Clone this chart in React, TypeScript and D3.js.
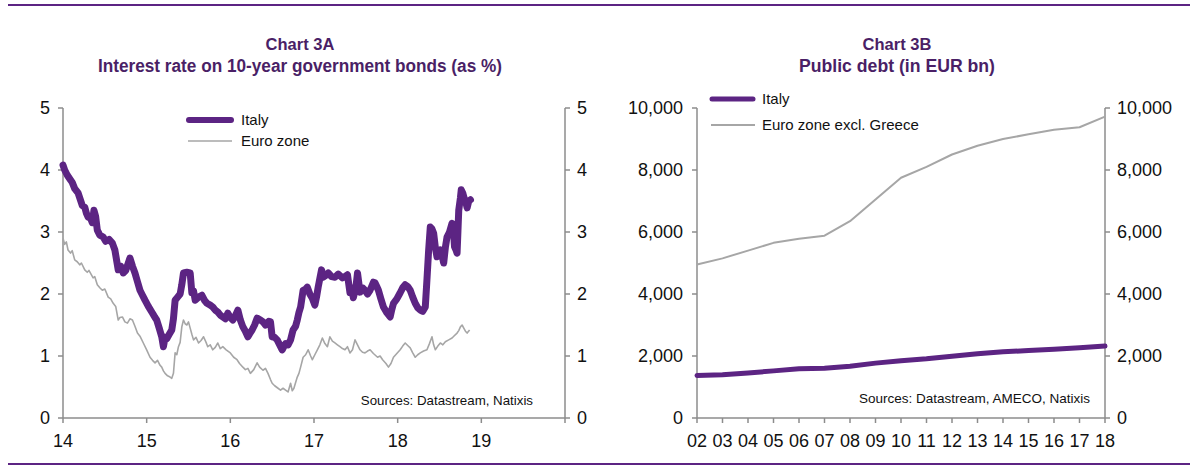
import React from "react";
import * as d3 from "d3";

// ---------- Chart 3A data (year offset from 2014, %) ----------
const italyRateT = [0.00,0.02,0.05,0.08,0.11,0.14,0.18,0.20,0.23,0.26,0.28,0.30,0.33,0.35,0.37,0.39,0.41,0.44,0.48,0.51,0.55,0.59,0.62,0.66,0.69,0.72,0.75,0.78,0.80,0.83,0.86,0.89,0.92,0.95,0.98,1.02,1.07,1.10,1.12,1.15,1.18,1.20,1.22,1.24,1.27,1.30,1.32,1.34,1.37,1.40,1.42,1.44,1.48,1.52,1.54,1.56,1.58,1.62,1.66,1.69,1.72,1.76,1.79,1.82,1.85,1.88,1.91,1.94,1.97,2.00,2.03,2.06,2.09,2.12,2.15,2.18,2.21,2.24,2.26,2.29,2.32,2.36,2.39,2.42,2.46,2.48,2.50,2.53,2.56,2.59,2.62,2.64,2.66,2.69,2.72,2.75,2.78,2.80,2.82,2.84,2.87,2.90,2.92,2.95,2.98,3.01,3.03,3.05,3.07,3.09,3.11,3.14,3.17,3.21,3.25,3.29,3.34,3.37,3.40,3.43,3.45,3.47,3.50,3.52,3.55,3.58,3.61,3.64,3.67,3.71,3.73,3.75,3.77,3.80,3.83,3.87,3.91,3.93,3.95,3.99,4.03,4.06,4.09,4.12,4.15,4.18,4.21,4.24,4.27,4.30,4.33,4.35,4.37,4.39,4.41,4.43,4.45,4.47,4.49,4.51,4.53,4.55,4.57,4.59,4.62,4.65,4.67,4.68,4.70,4.71,4.72,4.73,4.75,4.76,4.78,4.80,4.82,4.83,4.85,4.87];
const italyRateV = [4.08,4.00,3.92,3.86,3.80,3.70,3.63,3.55,3.43,3.40,3.30,3.24,3.22,3.15,3.35,3.25,3.03,2.95,2.92,2.85,2.88,2.82,2.71,2.39,2.45,2.34,2.38,2.50,2.58,2.45,2.34,2.20,2.06,1.98,1.90,1.80,1.69,1.62,1.58,1.45,1.31,1.15,1.30,1.28,1.35,1.42,1.60,1.90,1.95,2.00,2.15,2.34,2.35,2.34,2.02,2.05,1.90,1.95,1.98,1.90,1.85,1.82,1.79,1.74,1.71,1.66,1.63,1.60,1.69,1.62,1.58,1.65,1.74,1.58,1.47,1.40,1.31,1.38,1.42,1.50,1.61,1.58,1.55,1.50,1.56,1.55,1.31,1.30,1.26,1.18,1.10,1.15,1.20,1.18,1.26,1.42,1.48,1.58,1.70,1.79,2.06,2.08,2.11,2.00,1.93,1.82,1.95,2.11,2.25,2.39,2.27,2.30,2.34,2.28,2.27,2.32,2.26,2.28,2.31,2.02,2.10,1.94,2.10,2.34,2.03,2.10,2.06,2.00,2.06,2.19,2.18,2.12,2.06,1.92,1.79,1.70,1.63,1.75,1.85,1.92,2.02,2.10,2.15,2.12,2.06,1.95,1.85,1.78,1.74,1.72,1.79,2.23,2.70,3.08,3.05,2.98,2.75,2.60,2.68,2.71,2.62,2.50,2.75,2.92,3.00,3.14,2.95,2.76,2.70,2.66,3.00,3.35,3.55,3.68,3.62,3.52,3.45,3.39,3.50,3.52];
const euroRateT = [0.00,0.02,0.04,0.06,0.09,0.11,0.14,0.17,0.20,0.22,0.26,0.29,0.31,0.36,0.38,0.41,0.44,0.47,0.50,0.54,0.57,0.60,0.63,0.66,0.68,0.71,0.74,0.77,0.80,0.83,0.86,0.89,0.92,0.96,1.00,1.04,1.07,1.10,1.13,1.16,1.18,1.20,1.22,1.25,1.28,1.30,1.32,1.34,1.36,1.38,1.40,1.42,1.44,1.46,1.48,1.50,1.52,1.54,1.56,1.59,1.62,1.65,1.68,1.71,1.73,1.76,1.79,1.82,1.85,1.88,1.91,1.95,2.00,2.04,2.08,2.11,2.15,2.18,2.21,2.24,2.28,2.32,2.35,2.39,2.42,2.45,2.48,2.50,2.53,2.57,2.60,2.63,2.66,2.69,2.72,2.74,2.76,2.80,2.82,2.84,2.87,2.90,2.93,2.96,2.98,3.01,3.04,3.07,3.10,3.13,3.16,3.19,3.22,3.25,3.28,3.31,3.34,3.37,3.40,3.43,3.46,3.49,3.52,3.55,3.58,3.61,3.64,3.67,3.71,3.76,3.79,3.82,3.86,3.89,3.92,3.95,3.99,4.03,4.06,4.09,4.12,4.15,4.18,4.21,4.24,4.27,4.31,4.35,4.38,4.41,4.43,4.45,4.48,4.51,4.54,4.57,4.61,4.65,4.68,4.71,4.73,4.75,4.77,4.79,4.81,4.83,4.86];
const euroRateV = [2.90,2.80,2.84,2.71,2.66,2.70,2.55,2.52,2.47,2.50,2.39,2.35,2.38,2.26,2.28,2.15,2.10,2.06,2.08,1.95,1.92,1.85,1.80,1.58,1.62,1.63,1.55,1.53,1.60,1.58,1.48,1.37,1.32,1.21,1.10,0.98,0.93,0.89,0.93,0.85,0.82,0.76,0.72,0.68,0.66,0.64,0.72,1.05,1.02,1.15,1.22,1.47,1.58,1.52,1.50,1.55,1.45,1.35,1.26,1.30,1.21,1.25,1.31,1.22,1.15,1.18,1.10,1.14,1.21,1.12,1.15,1.10,1.05,0.98,0.94,0.88,0.82,0.78,0.80,0.72,0.78,0.89,0.82,0.77,0.80,0.72,0.62,0.56,0.52,0.48,0.45,0.48,0.45,0.42,0.56,0.44,0.48,0.66,0.72,0.82,0.98,1.02,1.10,1.00,0.94,1.02,1.10,1.18,1.29,1.20,1.15,1.31,1.24,1.21,1.18,1.15,1.12,1.10,1.15,1.05,1.10,1.26,1.18,1.10,1.06,1.05,1.08,1.10,1.04,0.98,1.00,0.94,0.88,0.82,0.88,0.98,1.04,1.10,1.16,1.21,1.17,1.13,1.05,0.98,1.02,1.05,1.08,1.10,1.20,1.31,1.18,1.10,1.16,1.21,1.18,1.23,1.26,1.29,1.33,1.37,1.41,1.47,1.50,1.45,1.40,1.37,1.42];
const rateYearTicks = ["14","15","16","17","18","19"];
const rateValueTicks = [0,1,2,3,4,5];

// ---------- Chart 3B data (EUR bn) ----------
const debtYears = ["02","03","04","05","06","07","08","09","10","11","12","13","14","15","16","17","18"];
const italyDebt = [1370,1395,1450,1520,1590,1605,1670,1770,1850,1910,1990,2070,2135,2175,2220,2265,2320];
const euroDebt = [4950,5150,5400,5650,5780,5880,6350,7050,7750,8100,8500,8780,9000,9150,9300,9380,9720];
const debtValueTicks = [0,2000,4000,6000,8000,10000];

const PURPLE = "#5c2483";
const TITLE = "#4a1f66";
const GREY = "#a6a6a6";
const AXIS = "#8c8c8c";
const FONT = "'Liberation Sans', Arial, sans-serif";

export default function App() {
  const xA = d3.scaleLinear().domain([0, 6]).range([63, 565]);
  const yA = d3.scaleLinear().domain([0, 5]).range([418, 108]);
  const lineA = d3.line<[number, number]>().x(d => xA(d[0])).y(d => yA(d[1]));
  const italyA: [number, number][] = italyRateT.map((t, i) => [t, italyRateV[i]]);
  const euroA: [number, number][] = euroRateT.map((t, i) => [t, euroRateV[i]]);

  const xB = d3.scalePoint<string>().domain(debtYears).range([697, 1105]);
  const yB = d3.scaleLinear().domain([0, 10000]).range([418, 108]);
  const lineB = d3.line<number>().x((_, i) => xB(debtYears[i]) as number).y(d => yB(d));
  const fmt = d3.format(",");

  return (
    <svg width={1199} height={472} style={{ position: "absolute", left: 0, top: 0, background: "#fff" }} fontFamily={FONT}>
      <rect x={0} y={0} width={1199} height={472} fill="#fff" />
      <line x1={8} x2={1190} y1={5} y2={5} stroke={PURPLE} strokeWidth={2} />
      <line x1={8} x2={1190} y1={464} y2={464} stroke={PURPLE} strokeWidth={2} />

      {/* Chart A */}
      <text x={300} y={50} textAnchor="middle" fontSize={16.5} fontWeight="bold" fill={TITLE}>Chart 3A</text>
      <text x={300} y={72} textAnchor="middle" fontSize={17.5} fontWeight="bold" fill={TITLE} textLength={404} lengthAdjust="spacingAndGlyphs">Interest rate on 10-year government bonds (as %)</text>

      <g stroke={AXIS} strokeWidth={1.5} fill="none">
        <line x1={63} x2={63} y1={108} y2={418} />
        <line x1={565} x2={565} y1={108} y2={418} />
        <line x1={63} x2={565} y1={418} y2={418} />
        {rateValueTicks.map(v => (
          <g key={"ta" + v}>
            <line x1={58} x2={63} y1={yA(v)} y2={yA(v)} />
            <line x1={565} x2={570} y1={yA(v)} y2={yA(v)} />
          </g>
        ))}
        {d3.range(0, 7).map(t => (
          <line key={"tx" + t} x1={xA(t)} x2={xA(t)} y1={418} y2={423} />
        ))}
      </g>
      {rateValueTicks.map(v => (
        <g key={"la" + v} fontSize={18} fill="#111">
          <text x={50} y={yA(v) + 6} textAnchor="end">{v}</text>
          <text x={577} y={yA(v) + 6} textAnchor="start">{v}</text>
        </g>
      ))}
      {rateYearTicks.map((l, i) => (
        <text key={"ly" + l} x={xA(i)} y={447} textAnchor="middle" fontSize={18} fill="#111">{l}</text>
      ))}

      <path d={lineA(euroA) || ""} fill="none" stroke={GREY} strokeWidth={1.6} strokeLinejoin="round" />
      <path d={lineA(italyA) || ""} fill="none" stroke={PURPLE} strokeWidth={7} strokeLinejoin="round" strokeLinecap="round" />

      <line x1={189} x2={231} y1={120} y2={120} stroke={PURPLE} strokeWidth={6} strokeLinecap="round" />
      <text x={241} y={125} fontSize={15} fill="#111">Italy</text>
      <line x1={188} x2={232} y1={141} y2={141} stroke={GREY} strokeWidth={1.6} />
      <text x={241} y={146} fontSize={15} fill="#111">Euro zone</text>
      <text x={533} y={405} textAnchor="end" fontSize={13.3} fill="#111">Sources:  Datastream,  Natixis</text>

      {/* Chart B */}
      <text x={897} y={50} textAnchor="middle" fontSize={16.5} fontWeight="bold" fill={TITLE}>Chart 3B</text>
      <text x={897} y={72} textAnchor="middle" fontSize={17.5} fontWeight="bold" fill={TITLE} textLength={196} lengthAdjust="spacingAndGlyphs">Public debt (in EUR bn)</text>

      <g stroke={AXIS} strokeWidth={1.5} fill="none">
        <line x1={697} x2={697} y1={108} y2={418} />
        <line x1={1105} x2={1105} y1={108} y2={418} />
        <line x1={697} x2={1105} y1={418} y2={418} />
        {debtValueTicks.map(v => (
          <g key={"tb" + v}>
            <line x1={692} x2={697} y1={yB(v)} y2={yB(v)} />
            <line x1={1105} x2={1110} y1={yB(v)} y2={yB(v)} />
          </g>
        ))}
        {debtYears.map(y => (
          <line key={"tbx" + y} x1={xB(y)} x2={xB(y)} y1={418} y2={423} />
        ))}
      </g>
      {debtValueTicks.map(v => (
        <g key={"lb" + v} fontSize={18} fill="#111">
          <text x={683} y={yB(v) + 6} textAnchor="end">{fmt(v)}</text>
          <text x={1117} y={yB(v) + 6} textAnchor="start">{fmt(v)}</text>
        </g>
      ))}
      {debtYears.map(y => (
        <text key={"lby" + y} x={xB(y)} y={447} textAnchor="middle" fontSize={18} fill="#111">{y}</text>
      ))}

      <path d={lineB(euroDebt) || ""} fill="none" stroke={GREY} strokeWidth={2} strokeLinejoin="round" />
      <path d={lineB(italyDebt) || ""} fill="none" stroke={PURPLE} strokeWidth={5} strokeLinejoin="round" strokeLinecap="round" />

      <line x1={712} x2={753} y1={99} y2={99} stroke={PURPLE} strokeWidth={5} strokeLinecap="round" />
      <text x={762} y={104} fontSize={15} fill="#111">Italy</text>
      <line x1={711} x2={755} y1={125} y2={125} stroke={GREY} strokeWidth={2} />
      <text x={762} y={130} fontSize={15} fill="#111">Euro zone excl. Greece</text>
      <text x={1090} y={403} textAnchor="end" fontSize={13.5} fill="#111">Sources: Datastream, AMECO, Natixis</text>
    </svg>
  );
}
